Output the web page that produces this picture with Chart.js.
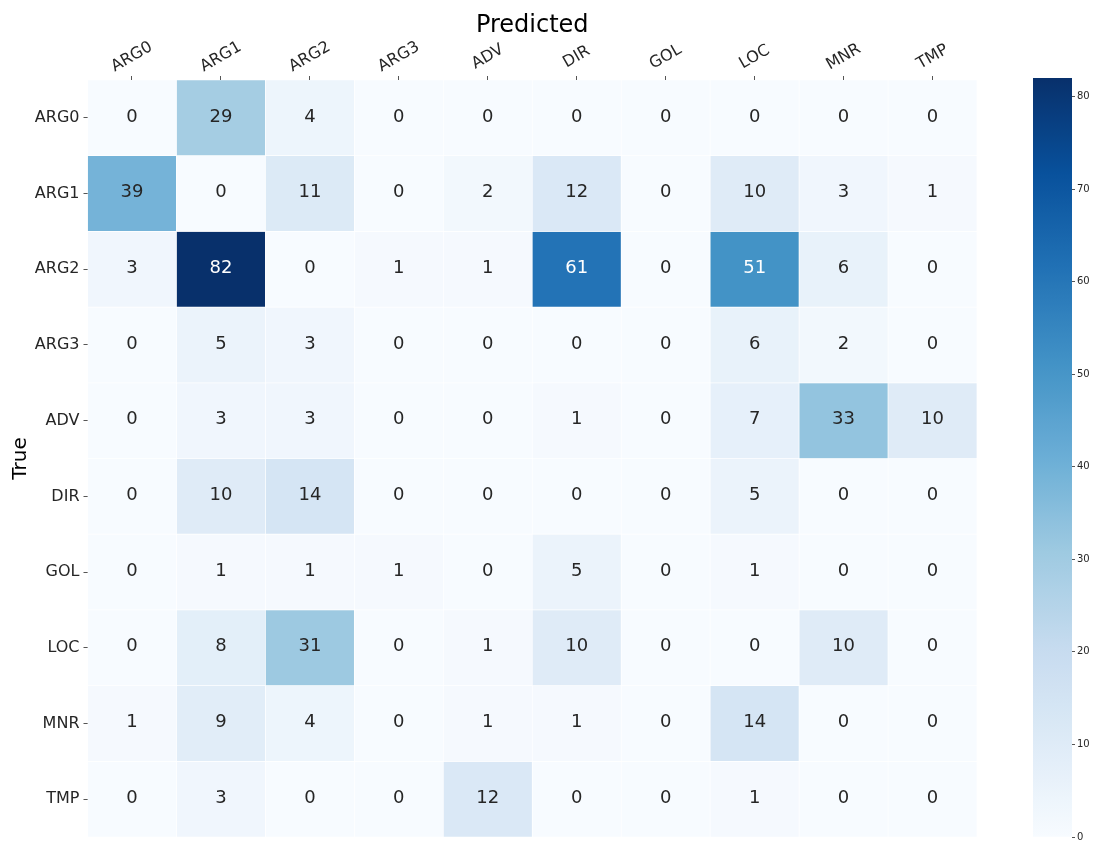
<!DOCTYPE html>
<html>
<head>
<meta charset="utf-8">
<script src="https://cdn.jsdelivr.net/npm/chart.js@4.4.1/dist/chart.umd.min.js"></script>
<style>
  html, body { margin: 0; padding: 0; background: #ffffff; }
  #wrap { position: relative; width: 1094px; height: 844px; }
  #main { position: absolute; left: 0; top: 0; }
  #cbar { position: absolute; left: 1000px; top: 0; }
</style>
</head>
<body>
<div id="wrap">
  <canvas id="main" width="1094" height="844"></canvas>
  <canvas id="cbar" width="94" height="844"></canvas>
</div>
<script>
// ---- data ----
const categories = ['ARG0', 'ARG1', 'ARG2', 'ARG3', 'ADV', 'DIR', 'GOL', 'LOC', 'MNR', 'TMP'];
const trueARG0 = [0, 29, 4, 0, 0, 0, 0, 0, 0, 0];
const trueARG1 = [39, 0, 11, 0, 2, 12, 0, 10, 3, 1];
const trueARG2 = [3, 82, 0, 1, 1, 61, 0, 51, 6, 0];
const trueARG3 = [0, 5, 3, 0, 0, 0, 0, 6, 2, 0];
const trueADV  = [0, 3, 3, 0, 0, 1, 0, 7, 33, 10];
const trueDIR  = [0, 10, 14, 0, 0, 0, 0, 5, 0, 0];
const trueGOL  = [0, 1, 1, 1, 0, 5, 0, 1, 0, 0];
const trueLOC  = [0, 8, 31, 0, 1, 10, 0, 0, 10, 0];
const trueMNR  = [1, 9, 4, 0, 1, 1, 0, 14, 0, 0];
const trueTMP  = [0, 3, 0, 0, 12, 0, 0, 1, 0, 0];
const colorbarTicks = [0, 10, 20, 30, 40, 50, 60, 70, 80];
const xTitle = 'Predicted';
const yTitle = 'True';

const rows = [trueARG0, trueARG1, trueARG2, trueARG3, trueADV, trueDIR, trueGOL, trueLOC, trueMNR, trueTMP];
const vmin = 0;
const vmax = Math.max(...rows.flat());

// matplotlib "Blues"
const blues = [
  [247, 251, 255], [222, 235, 247], [198, 219, 239], [158, 202, 225], [107, 174, 214],
  [66, 146, 198], [33, 113, 181], [8, 81, 156], [8, 48, 107]
];
function bluesRGB(t) {
  t = Math.max(0, Math.min(1, t));
  const p = t * (blues.length - 1);
  const i = Math.min(Math.floor(p), blues.length - 2);
  const f = p - i;
  return blues[i].map((c, k) => c + (blues[i + 1][k] - c) * f);
}
function rgbStr(c) { return 'rgb(' + c.map(v => Math.round(v)).join(',') + ')'; }
function colorFor(v) { return rgbStr(bluesRGB((v - vmin) / (vmax - vmin))); }
function relLum(c) {
  const l = c.map(v => { v = v / 255; return v <= 0.03928 ? v / 12.92 : Math.pow((v + 0.055) / 1.055, 2.4); });
  return 0.2126 * l[0] + 0.7152 * l[1] + 0.0722 * l[2];
}
function textFor(v) {
  return relLum(bluesRGB((v - vmin) / (vmax - vmin))) > 0.408 ? '#262626' : '#ffffff';
}

const FONT = "'DejaVu Sans', sans-serif";
const TXT = '#262626';

const datasets = rows.map((vals, i) => ({
  label: categories[i],
  data: vals.map(() => [i, i + 1]),
  values: vals,
  backgroundColor: vals.map(colorFor),
  borderColor: '#ffffff',
  borderWidth: 0.7,
  borderSkipped: false,
  barPercentage: 1,
  categoryPercentage: 1,
  grouped: false
}));

const annotatePlugin = {
  id: 'annotate',
  afterDatasetsDraw(chart) {
    const ctx = chart.ctx;
    ctx.save();
    ctx.font = '18px ' + FONT;
    ctx.textAlign = 'center';
    ctx.textBaseline = 'middle';
    chart.data.datasets.forEach((ds, di) => {
      const meta = chart.getDatasetMeta(di);
      meta.data.forEach((el, j) => {
        const v = ds.values[j];
        const yMid = (el.y + el.base) / 2;
        ctx.fillStyle = textFor(v);
        ctx.fillText(String(v), el.x, yMid - 1);
      });
    });
    ctx.restore();
  },
  afterDraw(chart) {
    const ctx = chart.ctx;
    const xs = chart.scales.x;
    const area = chart.chartArea;
    ctx.save();
    // rotated x tick labels
    ctx.font = '16px ' + FONT;
    ctx.fillStyle = TXT;
    ctx.textAlign = 'center';
    ctx.textBaseline = 'middle';
    categories.forEach((c, j) => {
      const x = xs.getPixelForValue(j);
      ctx.save();
      ctx.translate(x, area.top - 23);
      ctx.rotate(-Math.PI / 6);
      ctx.fillText(c, 0, 0);
      ctx.restore();
    });
    // x title
    ctx.font = '24px ' + FONT;
    ctx.fillStyle = '#000000';
    ctx.textBaseline = 'alphabetic';
    ctx.fillText(xTitle, (area.left + area.right) / 2, 32);
    // y title
    ctx.font = '20px ' + FONT;
    ctx.save();
    ctx.translate(26, (area.top + area.bottom) / 2);
    ctx.rotate(-Math.PI / 2);
    ctx.textBaseline = 'alphabetic';
    ctx.fillText(yTitle, 0, 0);
    ctx.restore();
    ctx.restore();
  }
};

new Chart(document.getElementById('main'), {
  type: 'bar',
  data: { labels: categories, datasets },
  options: {
    responsive: false,
    devicePixelRatio: 1,
    animation: false,
    layout: { padding: { left: 0, top: 0, right: 117, bottom: 7 } },
    plugins: { legend: { display: false }, tooltip: { enabled: false } },
    scales: {
      x: {
        type: 'category',
        position: 'top',
        offset: true,
        ticks: { display: false },
        grid: { display: true, drawOnChartArea: false, drawTicks: true, tickLength: 4, color: '#555555', offset: false },
        border: { display: false },
        afterFit(s) { s.height = 80; s.paddingLeft = 0; s.paddingRight = 0; }
      },
      y: {
        type: 'linear',
        reverse: true,
        min: 0,
        max: rows.length,
        afterBuildTicks(s) { s.ticks = categories.map((_, i) => ({ value: i + 0.5 })); },
        ticks: {
          autoSkip: false,
          padding: 4,
          color: TXT,
          font: { family: FONT, size: 16 },
          callback: (v) => categories[Math.floor(v)]
        },
        grid: { display: true, drawOnChartArea: false, drawTicks: true, tickLength: 4, color: '#555555' },
        border: { display: false },
        afterFit(s) { s.width = 87.5; s.paddingTop = 0; s.paddingBottom = 0; }
      }
    }
  },
  plugins: [annotatePlugin]
});

// ---- colorbar ----
new Chart(document.getElementById('cbar'), {
  type: 'bar',
  data: {
    labels: [''],
    datasets: [{
      data: [[vmin, vmax]],
      borderWidth: 0,
      barPercentage: 1,
      categoryPercentage: 1,
      backgroundColor(ctx) {
        const chart = ctx.chart;
        const ys = chart.scales.y;
        if (!ys) return colorFor(vmax);
        const y0 = ys.getPixelForValue(vmin), y1 = ys.getPixelForValue(vmax);
        if (!isFinite(y0) || !isFinite(y1) || y0 === y1) return colorFor(vmax);
        const g = chart.ctx.createLinearGradient(0, y0, 0, y1);
        for (let k = 0; k <= 40; k++) g.addColorStop(k / 40, rgbStr(bluesRGB(k / 40)));
        return g;
      }
    }]
  },
  options: {
    responsive: false,
    devicePixelRatio: 1,
    animation: false,
    layout: { padding: { left: 33, top: 78, right: 0, bottom: 7 } },
    plugins: { legend: { display: false }, tooltip: { enabled: false } },
    scales: {
      x: { display: false },
      y: {
        position: 'right',
        min: vmin,
        max: vmax,
        afterBuildTicks(s) { s.ticks = colorbarTicks.map(v => ({ value: v })); },
        ticks: { color: TXT, padding: 2, font: { family: FONT, size: 10 } },
        grid: { display: true, drawOnChartArea: false, drawTicks: true, tickLength: 3, color: '#555555' },
        border: { display: false },
        afterFit(s) { s.width = 22; s.paddingTop = 0; s.paddingBottom = 0; }
      }
    }
  }
});
</script>
</body>
</html>
